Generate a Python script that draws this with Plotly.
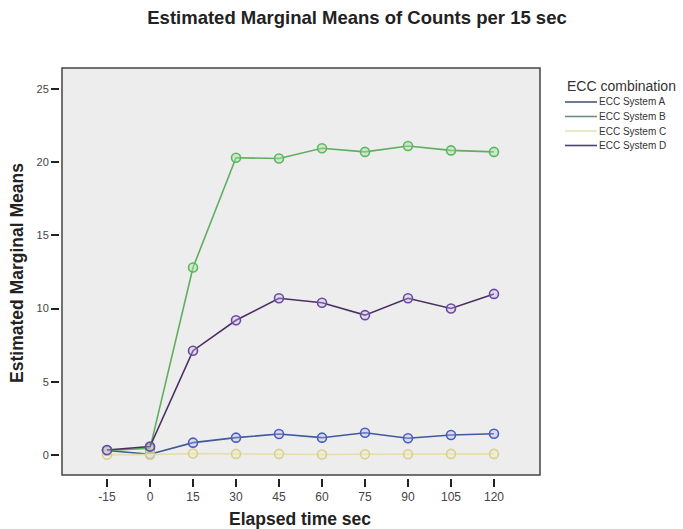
import plotly.graph_objects as go

times = [-15, 0, 15, 30, 45, 60, 75, 90, 105, 120]
tick_labels = ["-15", "0", "15", "30", "45", "60", "75", "90", "105", "120"]
series_names = ["ECC System A", "ECC System B", "ECC System C", "ECC System D"]
sys_a = [0.30, 0.05, 0.84, 1.18, 1.43, 1.18, 1.52, 1.14, 1.36, 1.45]
sys_b = [0.30, 0.45, 12.8, 20.3, 20.25, 20.95, 20.7, 21.1, 20.8, 20.7]
sys_c = [0.02, 0.02, 0.10, 0.07, 0.07, 0.03, 0.05, 0.05, 0.07, 0.07]
sys_d = [0.34, 0.57, 7.12, 9.2, 10.7, 10.4, 9.55, 10.7, 10.0, 11.0]
y_ticks = [0, 5, 10, 15, 20, 25]

styles = [
    dict(line="#3d5a9a", mk="#4a5cc4", fill="rgba(180,185,235,0.35)"),
    dict(line="#5fae5f", mk="#5cb85c", fill="rgba(170,225,170,0.45)"),
    dict(line="#e6deaa", mk="#d9d08f", fill="rgba(240,235,200,0.45)"),
    dict(line="#4a2f62", mk="#6a48a8", fill="rgba(200,180,230,0.35)"),
]
legend_line_colors = ["#4a5878", "#6f8f7a", "#e8e4b8", "#4a3f78"]
all_series = [sys_a, sys_b, sys_c, sys_d]

W, H = 683, 529
ml, mr, mt, mb = 60, 143, 68, 51
pw = W - ml - mr
ph = H - mt - mb
gap_x, gap_y = 2, 3  # gap between tick marks and plot frame (px)
x_range = [-31.4, 136.05]
y_range = [-1.575, 26.43]


def px_x(p):
    return (p - ml) / pw


def px_y(p):
    return (H - mb - p) / ph


fig = go.Figure()
for name, vals, st in zip(series_names, all_series, styles):
    fig.add_trace(go.Scatter(
        x=times, y=vals, mode="lines+markers", showlegend=False,
        line=dict(color=st["line"], width=1.6),
        marker=dict(symbol="circle", size=9, color=st["fill"],
                    line=dict(color=st["mk"], width=1.6)),
        name=name,
    ))

fig.update_layout(
    width=W, height=H,
    margin=dict(l=ml, r=mr, t=mt, b=mb, pad=0, autoexpand=False),
    paper_bgcolor="white",
    plot_bgcolor="white",
    showlegend=False,
    font=dict(family="Liberation Sans, Arial, sans-serif", color="#333333"),
    title=dict(text="<b>Estimated Marginal Means of Counts per 15 sec</b>",
               x=357 / W, xref="container", xanchor="center",
               y=1 - 18 / H, yref="container", yanchor="middle",
               font=dict(size=18.5, color="#222222")),
    xaxis=dict(
        range=x_range, automargin=False,
        tickmode="array", tickvals=times, ticktext=tick_labels,
        ticks="outside", ticklen=8, tickwidth=2, tickcolor="#222222",
        showgrid=False, zeroline=False, showline=False,
        tickfont=dict(size=12, color="#444444"),
        title=dict(text="<b>Elapsed time sec</b>", font=dict(size=17.5, color="#222222"), standoff=10),
    ),
    yaxis=dict(
        range=y_range, automargin=False,
        tickmode="array", tickvals=y_ticks,
        ticks="outside", ticklen=8, tickwidth=2, tickcolor="#222222",
        showgrid=False, zeroline=False, showline=False,
        tickfont=dict(size=11, color="#444444"),
        title=dict(text="<b>Estimated Marginal Means</b>", font=dict(size=17.5, color="#222222"), standoff=8),
    ),
)
# plot frame with background, inset from the tick side
fig.add_shape(type="rect", xref="paper", yref="paper",
              x0=gap_x / pw, x1=1, y0=gap_y / ph, y1=1,
              line=dict(width=0), fillcolor="#ededed", layer="below")
fig.add_shape(type="rect", xref="paper", yref="paper",
              x0=gap_x / pw, x1=1, y0=gap_y / ph, y1=1,
              line=dict(color="#444444", width=1.5), fillcolor="rgba(0,0,0,0)", layer="above")

# x tick marks (drawn explicitly at the tick values, mapped through the x range)
for t in times:
    fx = (t - x_range[0]) / (x_range[1] - x_range[0])
    fig.add_shape(type="line", xref="paper", yref="paper",
                  x0=fx, x1=fx, y0=-1 / ph, y1=-8 / ph,
                  line=dict(color="#222222", width=2))

# manual legend
fig.add_annotation(text="ECC combination", xref="paper", yref="paper",
                   x=px_x(565), y=px_y(86), xanchor="left", yanchor="middle",
                   showarrow=False, font=dict(size=14, color="#333333"))
item_y = [102, 116.5, 131, 145.5]
for name, col, py in zip(series_names, legend_line_colors, item_y):
    fig.add_shape(type="line", xref="paper", yref="paper",
                  x0=px_x(565), x1=px_x(597), y0=px_y(py), y1=px_y(py),
                  line=dict(color=col, width=1.6))
    fig.add_annotation(text=name, xref="paper", yref="paper",
                       x=px_x(597), y=px_y(py), xanchor="left", yanchor="middle",
                       showarrow=False, font=dict(size=10, color="#333333"))

fig.write_html("out.html", config={"displayModeBar": False},
               post_script="document.body.style.margin='0px';")
